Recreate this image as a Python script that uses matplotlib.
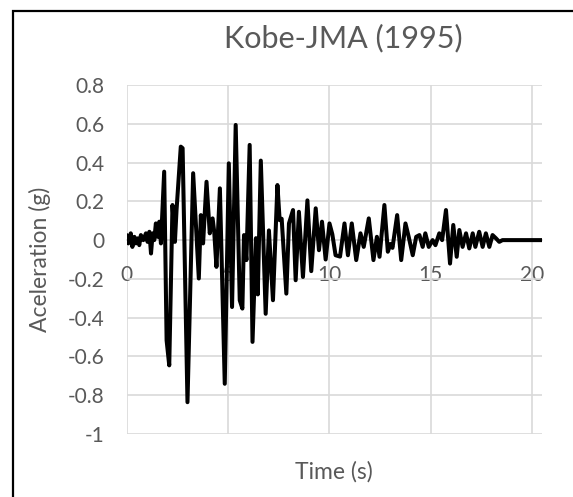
import matplotlib
matplotlib.use("Agg")
import matplotlib.pyplot as plt
from matplotlib.patches import Rectangle

# Ground acceleration record, Kobe-JMA (1995): time (s) and acceleration (g)
time_s = [
    0.00, 0.08, 0.20, 0.28, 0.38, 0.46, 0.54, 0.62, 0.70, 0.82, 0.95, 1.03,
    1.12, 1.20, 1.28, 1.36, 1.44, 1.53, 1.61, 1.69, 1.85, 1.97, 2.10, 2.26,
    2.38, 2.46, 2.67, 2.76, 3.00, 3.28, 3.56, 3.66, 3.77, 3.94, 4.10, 4.24,
    4.32, 4.43, 4.60, 4.84, 5.04, 5.20, 5.38, 5.58, 5.71, 5.79, 5.91, 6.07,
    6.21, 6.38, 6.47, 6.62, 6.86, 7.02, 7.22, 7.44, 7.55, 7.65, 7.88, 8.01,
    8.21, 8.34, 8.50, 8.70, 8.92, 9.11, 9.33, 9.49, 9.64, 9.82, 10.01, 10.15,
    10.31, 10.53, 10.75, 10.92, 11.11, 11.33, 11.54, 11.70, 11.95, 12.18,
    12.35, 12.48, 12.72, 12.89, 13.02, 13.12, 13.35, 13.55, 13.76, 13.92,
    14.12, 14.29, 14.45, 14.61, 14.74, 14.91, 15.10, 15.24, 15.43, 15.57,
    15.76, 15.96, 16.12, 16.29, 16.42, 16.58, 16.75, 16.91, 17.08, 17.21,
    17.40, 17.57, 17.73, 17.90, 18.06, 18.23, 18.39, 18.55, 20.50,
]
accel_g = [
    0.026, -0.017, 0.035, -0.035, 0.017, -0.017, 0.009, -0.026, 0.026, 0.000,
    0.035, -0.009, 0.043, -0.069, 0.035, 0.000, 0.086, 0.017, 0.095, -0.017,
    0.353, -0.517, -0.646, 0.181, -0.009, 0.155, 0.482, 0.474, -0.836, 0.345,
    -0.198, 0.129, -0.017, 0.301, 0.035, 0.112, 0.043, -0.138, 0.267, -0.741,
    0.396, -0.345, 0.594, -0.310, -0.353, 0.026, -0.103, 0.491, -0.525, 0.010,
    -0.280, 0.410, -0.380, 0.050, -0.310, 0.284, 0.103, 0.110, -0.276, 0.086,
    0.155, -0.207, 0.146, -0.190, 0.205, -0.160, 0.164, -0.052, 0.095, -0.100,
    0.086, 0.030, -0.078, -0.085, 0.086, -0.078, 0.086, -0.103, 0.035, -0.035,
    0.112, -0.103, 0.017, -0.086, 0.181, -0.060, -0.020, -0.040, 0.129, -0.103,
    0.086, 0.017, -0.078, 0.017, 0.026, -0.035, 0.035, -0.035, 0.000, -0.026,
    0.035, 0.000, 0.155, -0.121, 0.078, -0.086, 0.052, -0.035, 0.035, -0.043,
    0.035, -0.035, 0.043, -0.035, 0.035, -0.035, 0.026, 0.009, -0.009, 0.000,
    0.000,
]

x_ticks = [0, 5, 10, 15, 20]
y_ticks = [-1.0, -0.8, -0.6, -0.4, -0.2, 0.0, 0.2, 0.4, 0.6, 0.8]
y_tick_labels = ["-1", "-0.8", "-0.6", "-0.4", "-0.2", "0", "0.2", "0.4", "0.6", "0.8"]

TEXT = "#595959"
GRID = "#d9d9d9"
plt.rcParams["font.family"] = ["Lato", "DejaVu Sans"]

W, H = 573, 497
fig = plt.figure(figsize=(W / 100, H / 100), dpi=100)
ax = fig.add_axes([126.7 / W, 1 - 434 / H, (542 - 126.7) / W, (434 - 85) / H])

ax.plot(time_s, accel_g, color="black", linewidth=2.9,
        solid_joinstyle="round", solid_capstyle="round", zorder=3)

ax.set_xlim(0, 20.5)
ax.set_ylim(-1.0, 0.8)
ax.set_xticks(x_ticks)
ax.set_xticklabels([str(v) for v in x_ticks])
ax.set_yticks(y_ticks)
ax.set_yticklabels(y_tick_labels)
ax.grid(True, color=GRID, linewidth=1.2, zorder=0)
ax.set_axisbelow(True)

for side in ("top", "right", "left"):
    ax.spines[side].set_visible(False)
ax.spines["bottom"].set_position(("data", 0))
ax.spines["bottom"].set_color(GRID)
ax.spines["bottom"].set_linewidth(1.2)

ax.tick_params(axis="x", length=0, pad=18, labelsize=15, labelcolor=TEXT)
ax.tick_params(axis="y", length=0, pad=16, labelsize=15, labelcolor=TEXT)

fig.text(343 / W, 1 - 47 / H, "Kobe-JMA (1995)", ha="center", va="baseline",
         fontsize=22, color=TEXT)
fig.text(334 / W, 1 - 472 / H, "Time (s)", ha="center", va="center",
         fontsize=16.5, color=TEXT)
fig.text(40 / W, 1 - 259 / H, "Aceleration (g)", ha="center", va="center",
         rotation=90, fontsize=16.5, color=TEXT)

# chart-area frame
fig.patches.append(Rectangle((13 / W, -0.1), 1.2, 1.1 - 11 / H,
                             transform=fig.transFigure, fill=False,
                             edgecolor="black", linewidth=1.6))

fig.savefig("out.png", dpi=100)
